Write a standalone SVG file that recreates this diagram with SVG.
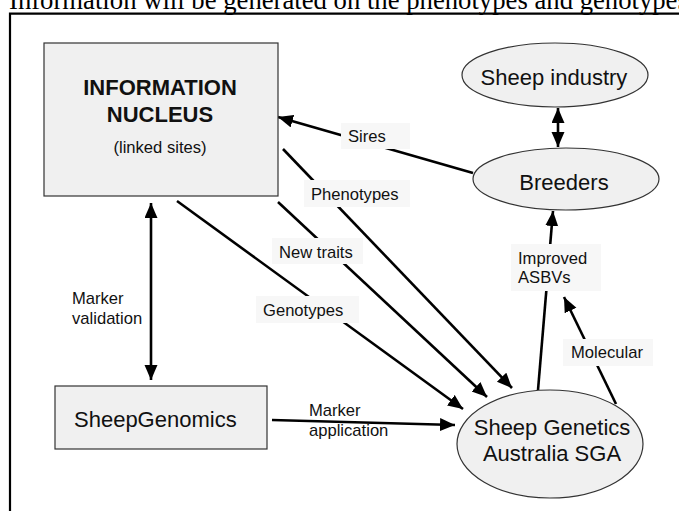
<svg xmlns="http://www.w3.org/2000/svg" width="679" height="511" viewBox="0 0 679 511">
<defs>
<style>
.node{fill:#f0f0f0;stroke:#333;stroke-width:1.2}
.big{font-family:"Liberation Sans",Arial,sans-serif;font-size:22px;fill:#111}
.bold{font-weight:bold}
.sm{font-family:"Liberation Sans",Arial,sans-serif;font-size:16.6px;fill:#111}
.lbl{fill:#f7f7f7;stroke:none}
.con{stroke:#000;stroke-width:2.6;fill:none}
</style>
<marker id="ah" markerUnits="userSpaceOnUse" markerWidth="16" markerHeight="14" viewBox="0 0 16 14" refX="15" refY="6.5" orient="auto-start-reverse">
<path d="M0,0 L15,6.5 L0,13 z" fill="#000"/>
</marker>
</defs>
<rect width="679" height="511" fill="#fff"/>
<text x="9" y="9.3" font-family="Liberation Serif,Times New Roman,serif" font-size="26.7" fill="#000">Information will be generated on the phenotypes and genotypes</text>
<path d="M10,511 V13.7 H679" fill="none" stroke="#000" stroke-width="2.2"/>

<g id="connectors">
<line class="con" x1="473" y1="173" x2="278" y2="117" marker-end="url(#ah)"/>
<line class="con" x1="283" y1="149" x2="512" y2="388" marker-end="url(#ah)"/>
<line class="con" x1="278" y1="202" x2="487" y2="397" marker-end="url(#ah)"/>
<line class="con" x1="177" y1="201" x2="463" y2="409" marker-end="url(#ah)"/>
<line class="con" x1="151" y1="203" x2="151" y2="380" marker-start="url(#ah)" marker-end="url(#ah)"/>
<line class="con" x1="272" y1="420" x2="455" y2="425" marker-end="url(#ah)"/>
<line class="con" x1="538" y1="390" x2="553" y2="211" marker-end="url(#ah)"/>
<line class="con" x1="616" y1="404" x2="564" y2="297" marker-end="url(#ah)"/>
<line class="con" x1="558" y1="108" x2="558" y2="147" marker-start="url(#ah)" marker-end="url(#ah)"/>
</g>

<g id="labels">
<rect class="lbl" x="341" y="123" width="69" height="26"/>
<text class="sm" x="348" y="142">Sires</text>
<rect class="lbl" x="304" y="180" width="106" height="27"/>
<text class="sm" x="311" y="200">Phenotypes</text>
<rect class="lbl" x="272" y="238" width="91" height="26"/>
<text class="sm" x="279" y="258">New traits</text>
<rect class="lbl" x="256" y="296" width="103" height="27"/>
<text class="sm" x="263" y="316">Genotypes</text>
<text class="sm" x="72" y="304">Marker</text>
<text class="sm" x="72" y="324">validation</text>
<text class="sm" x="309" y="416">Marker</text>
<text class="sm" x="309" y="436">application</text>
<rect class="lbl" x="511" y="244" width="90" height="47"/>
<text class="sm" x="518" y="264">Improved</text>
<text class="sm" x="518" y="283">ASBVs</text>
<rect class="lbl" x="563" y="339" width="90" height="27"/>
<text class="sm" x="571" y="358">Molecular</text>
</g>

<g id="info-nucleus">
<rect class="node" x="44" y="43" width="234" height="153"/>
<text class="big bold" x="160" y="95" text-anchor="middle">INFORMATION</text>
<text class="big bold" x="160" y="122" text-anchor="middle">NUCLEUS</text>
<text class="sm" x="160" y="153" text-anchor="middle">(linked sites)</text>
</g>

<g id="sheep-industry">
<ellipse class="node" cx="555" cy="75" rx="93" ry="32"/>
<text class="big" x="554" y="85" text-anchor="middle">Sheep industry</text>
</g>

<g id="breeders">
<ellipse class="node" cx="566" cy="179" rx="93" ry="31"/>
<text class="big" x="564" y="190" text-anchor="middle">Breeders</text>
</g>

<g id="sheepgenomics">
<rect class="node" x="55" y="386" width="212" height="63"/>
<text class="big" x="74" y="427">SheepGenomics</text>
</g>

<g id="sga">
<ellipse class="node" cx="550" cy="444" rx="93" ry="54"/>
<text class="big" x="552" y="435" text-anchor="middle">Sheep Genetics</text>
<text class="big" x="552" y="461" text-anchor="middle">Australia SGA</text>
</g>
</svg>
